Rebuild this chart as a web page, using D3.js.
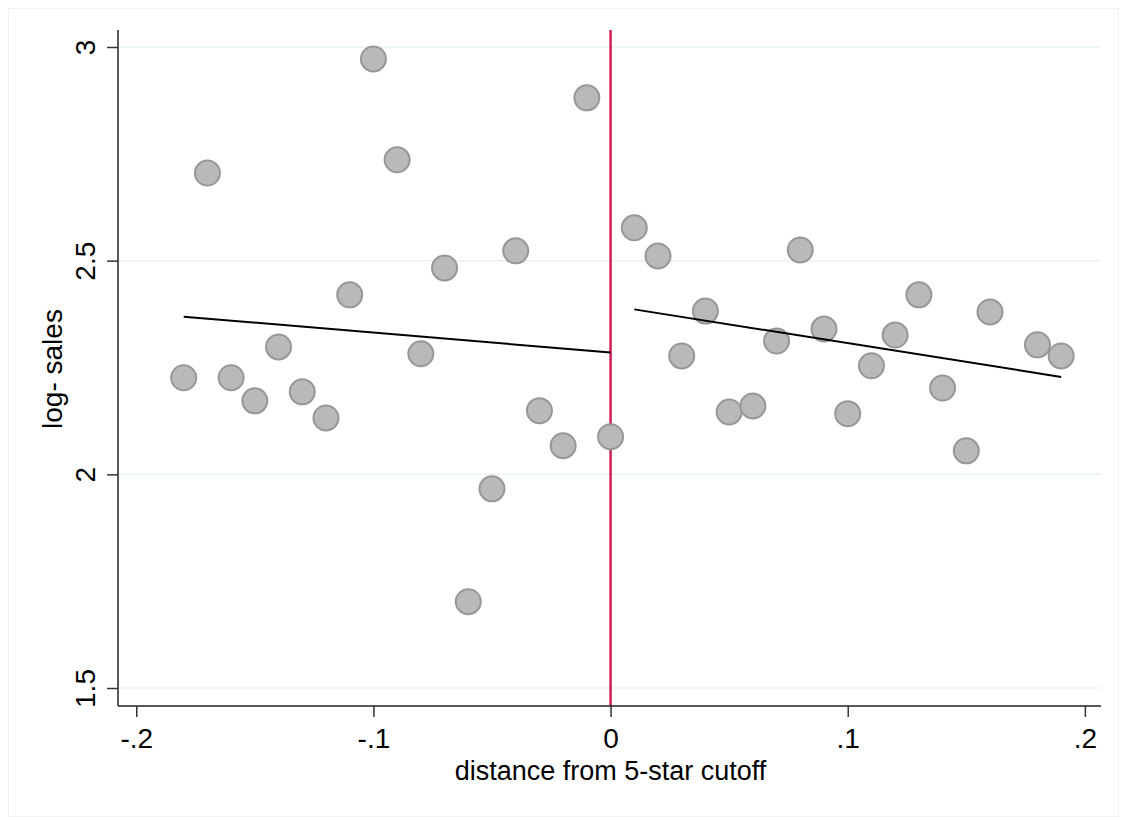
<!DOCTYPE html>
<html>
<head>
<meta charset="utf-8">
<script src="https://cdn.jsdelivr.net/npm/d3@7"></script>
<style>
  body { margin: 0; background: #fff; }
  text { font-family: "Liberation Sans", Arial, sans-serif; fill: #000; }
</style>
</head>
<body>
<svg class="rd-chart" width="1127" height="818"></svg>
<script>
// binned scatter: distance from cutoff vs mean log sales
const xBins = [-0.18, -0.17, -0.16, -0.15, -0.14, -0.13, -0.12, -0.11, -0.10, -0.09,
  -0.08, -0.07, -0.06, -0.05, -0.04, -0.03, -0.02, -0.01, 0.00,
  0.01, 0.02, 0.03, 0.04, 0.05, 0.06, 0.07, 0.08, 0.09, 0.10,
  0.11, 0.12, 0.13, 0.14, 0.15, 0.16, 0.18, 0.19]
const logSales = [2.226, 2.705, 2.226, 2.172, 2.298, 2.193, 2.132, 2.420, 2.972, 2.736,
  2.282, 2.483, 1.702, 1.966, 2.523, 2.149, 2.067, 2.881, 2.088,
  2.577, 2.511, 2.277, 2.382, 2.146, 2.160, 2.312, 2.525, 2.340, 2.142,
  2.254, 2.326, 2.420, 2.202, 2.055, 2.380, 2.303, 2.277]

// fitted lines each side of the cutoff
const fitLeft = [[-0.18, 2.369], [0.00, 2.285]]
const fitRight = [[0.01, 2.386], [0.19, 2.228]]

const xTicks = [-0.2, -0.1, 0, 0.1, 0.2]
const xTickLabels = ['-.2', '-.1', '0', '.1', '.2']
const yTicks = [1.5, 2, 2.5, 3]
const yTickLabels = ['1.5', '2', '2.5', '3']

const svg = d3.select('.rd-chart')
const margin = { top: 30, right: 26, bottom: 112, left: 118 }
const width = 1127 - margin.left - margin.right
const height = 818 - margin.top - margin.bottom

// faint outer frame
svg.append('rect')
  .attr('x', 8.5).attr('y', 8.5)
  .attr('width', 1127 - 17).attr('height', 818 - 10)
  .attr('fill', 'none')
  .attr('stroke', '#eef0f2')

const g = svg.append('g').attr('transform', 'translate(' + margin.left + ',' + margin.top + ')')

const x = d3.scaleLinear().domain([-0.2077, 0.2068]).range([0, width])
const y = d3.scaleLinear().domain([1.5, 3]).range([658, 17])

// grid
g.append('g')
  .selectAll('line')
  .data(yTicks)
  .join('line')
  .attr('x1', 0).attr('x2', width)
  .attr('y1', d => y(d)).attr('y2', d => y(d))
  .attr('stroke', '#eaf2f3')
  .attr('stroke-width', 1.5)

// cutoff line
g.append('line')
  .attr('x1', x(0)).attr('x2', x(0))
  .attr('y1', 0).attr('y2', height)
  .attr('stroke', '#d1204f')
  .attr('stroke-width', 2.5)

// x axis
const xAxis = g.append('g')
  .attr('transform', 'translate(0,' + height + ')')
  .call(d3.axisBottom(x).tickValues(xTicks).tickFormat((d, i) => xTickLabels[i]).tickSize(11))
xAxis.select('.domain').attr('stroke', '#222').attr('stroke-width', 1.5).attr('d', 'M0,0H' + width)
xAxis.selectAll('.tick line').attr('stroke', '#333').attr('stroke-width', 1.5)
xAxis.selectAll('.tick text')
  .style('font-size', '28px')
  .attr('fill', '#000')
  .attr('y', 42)
  .attr('dy', null)

// y axis
const yAxis = g.append('g')
  .call(d3.axisLeft(y).tickValues(yTicks).tickFormat((d, i) => yTickLabels[i]).tickSize(11))
yAxis.select('.domain').attr('stroke', '#222').attr('stroke-width', 1.5).attr('d', 'M0,0V' + height)
yAxis.selectAll('.tick line').attr('stroke', '#333').attr('stroke-width', 1.5)
yAxis.selectAll('.tick text')
  .style('font-size', '28px')
  .attr('fill', '#000')
  .attr('text-anchor', 'middle')
  .attr('dy', null)
  .attr('x', null)
  .attr('y', 0)
  .attr('transform', 'translate(-23,0) rotate(-90)')

// points
g.append('g')
  .selectAll('circle')
  .data(xBins.map((d, i) => ({ x: d, y: logSales[i] })))
  .join('circle')
  .attr('cx', d => x(d.x))
  .attr('cy', d => y(d.y))
  .attr('r', 12.5)
  .attr('fill', '#b9b9b9')
  .attr('stroke', '#979797')
  .attr('stroke-width', 2)

// fitted lines
const line = d3.line().x(d => x(d[0])).y(d => y(d[1]))
for (const seg of [fitLeft, fitRight]) {
  g.append('path')
    .datum(seg)
    .attr('fill', 'none')
    .attr('stroke', '#000')
    .attr('stroke-width', 2)
    .attr('d', line)
}

// titles
g.append('text')
  .attr('x', x(0))
  .attr('y', height + 74)
  .attr('text-anchor', 'middle')
  .style('font-size', '27px')
  .text('distance from 5-star cutoff')

g.append('text')
  .attr('transform', 'translate(-56,' + (369 - margin.top) + ') rotate(-90)')
  .attr('text-anchor', 'middle')
  .style('font-size', '28px')
  .text('log- sales')
</script>
</body>
</html>
